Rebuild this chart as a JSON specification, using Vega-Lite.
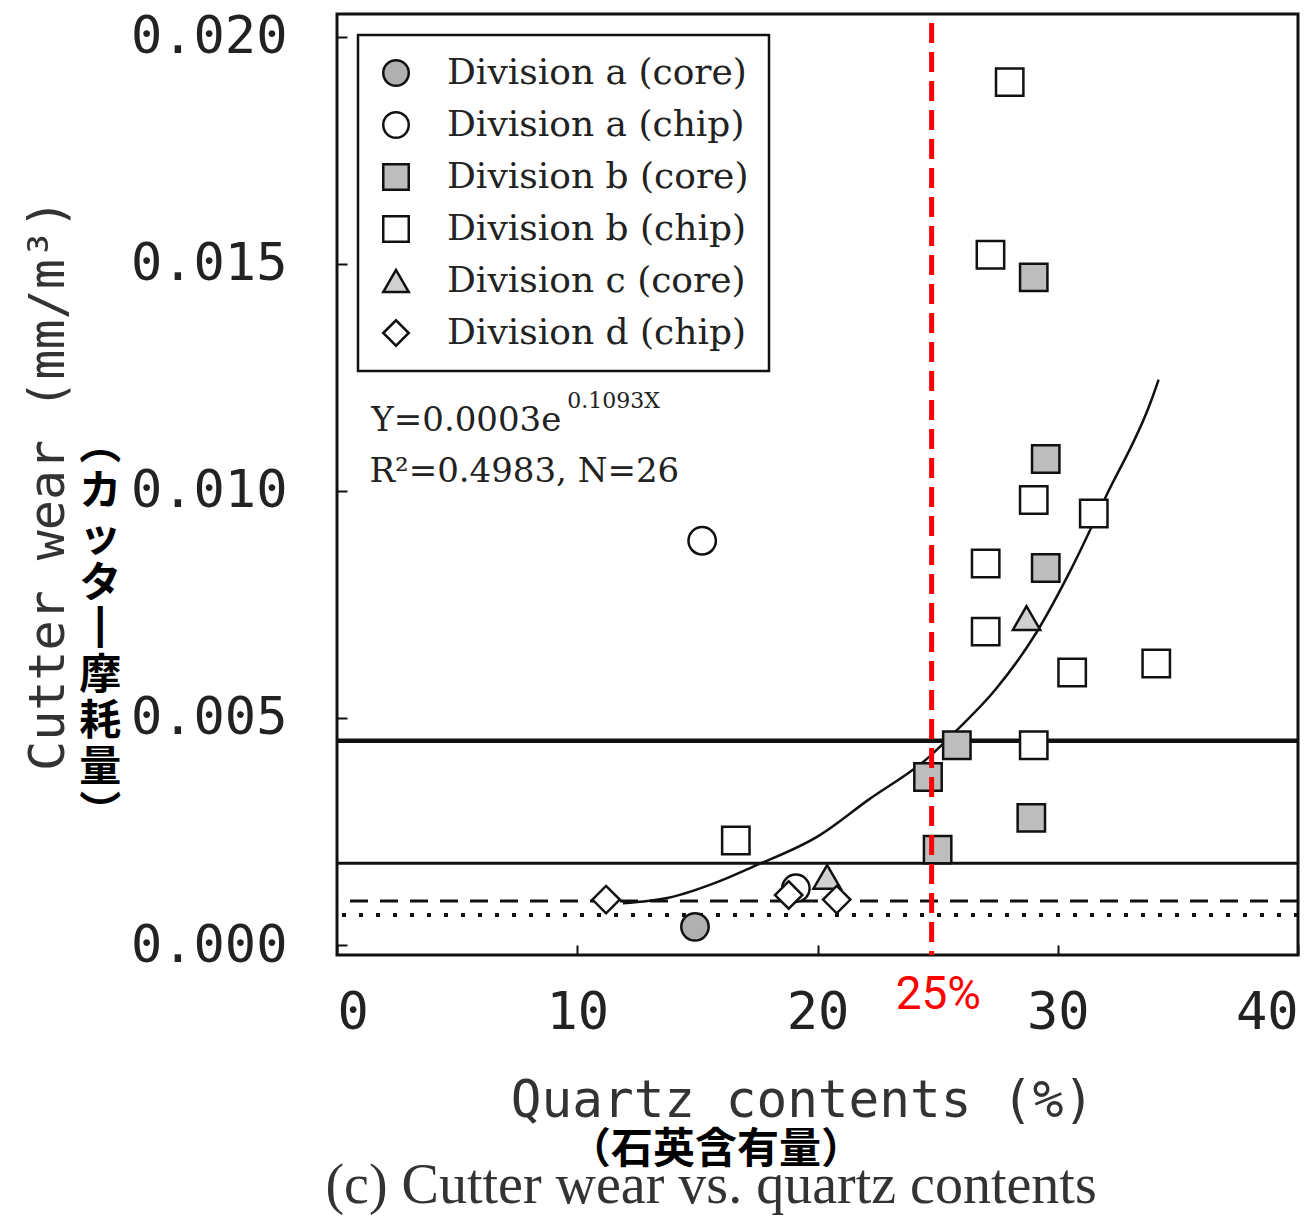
{
  "$schema": "https://vega.github.io/schema/vega-lite/v6.json",
  "width": 961,
  "height": 941,
  "autosize": {"type": "none"},
  "padding": {"left": 337, "top": 14, "right": 14, "bottom": 261},
  "background": "white",
  "config": {
    "view": {"stroke": "#111", "strokeWidth": 3},
    "axis": {
      "grid": false,
      "domain": false,
      "ticks": true,
      "tickSize": -10,
      "tickWidth": 2,
      "tickColor": "#111",
      "labelFont": "DejaVu Sans Mono",
      "labelFontSize": 52,
      "labelColor": "#222",
      "titleFont": "DejaVu Sans Mono",
      "titleFontWeight": "normal",
      "titleColor": "#333"
    },
    "legend": {
      "orient": "top-left",
      "offset": 21,
      "strokeColor": "#111",
      "strokeWidth": 2.5,
      "padding": 20,
      "labelFont": "DejaVu Serif",
      "labelFontSize": 36,
      "labelColor": "#222",
      "labelLimit": 600,
      "symbolSize": 650,
      "symbolStrokeWidth": 2.5,
      "symbolOpacity": 1,
      "rowPadding": 16,
      "labelOffset": 33
    }
  },
  "layer": [
    {
      "data": {"values": [{"wear": 0.0045}]},
      "mark": {"type": "rule", "color": "#111", "strokeWidth": 4.5},
      "encoding": {"y": {"field": "wear", "type": "quantitative", "title": "Cutter wear (mm/m³)"}}
    },
    {
      "data": {"values": [{"wear": 0.0018}]},
      "mark": {"type": "rule", "color": "#111", "strokeWidth": 3},
      "encoding": {"y": {"field": "wear", "type": "quantitative", "title": "Cutter wear (mm/m³)"}}
    },
    {
      "data": {"values": [{"wear": 0.00097}]},
      "mark": {"type": "rule", "color": "#111", "strokeWidth": 3, "strokeDash": [18, 12]},
      "encoding": {"y": {"field": "wear", "type": "quantitative", "title": "Cutter wear (mm/m³)"}}
    },
    {
      "data": {"values": [{"wear": 0.00066}]},
      "mark": {"type": "rule", "color": "#111", "strokeWidth": 4, "strokeDash": [4, 13]},
      "encoding": {"y": {"field": "wear", "type": "quantitative", "title": "Cutter wear (mm/m³)"}}
    },
    {
      "data": {"values": [
        {"quartz": 11.9, "wear": 0.00092},
        {"quartz": 13.8, "wear": 0.00104},
        {"quartz": 15.9, "wear": 0.00140},
        {"quartz": 17.3, "wear": 0.00172},
        {"quartz": 20.1, "wear": 0.00242},
        {"quartz": 22.1, "wear": 0.00319},
        {"quartz": 24.6, "wear": 0.00412},
        {"quartz": 25.8, "wear": 0.00473},
        {"quartz": 27.4, "wear": 0.00562},
        {"quartz": 29.1, "wear": 0.00687},
        {"quartz": 30.6, "wear": 0.00832},
        {"quartz": 32.0, "wear": 0.00987},
        {"quartz": 33.9, "wear": 0.01200},
        {"quartz": 34.2, "wear": 0.01245}
      ]},
      "mark": {"type": "line", "color": "#111", "strokeWidth": 2.5, "interpolate": "monotone"},
      "encoding": {
        "x": {"field": "quartz", "type": "quantitative", "title": "Quartz contents (%)"},
        "y": {"field": "wear", "type": "quantitative", "title": "Cutter wear (mm/m³)"}
      }
    },
    {
      "data": {"values": [
        {"series": "Division a (core)", "quartz": 14.9, "wear": 0.00040},
        {"series": "Division a (chip)", "quartz": 15.2, "wear": 0.0089},
        {"series": "Division a (chip)", "quartz": 19.1, "wear": 0.00125},
        {"series": "Division b (core)", "quartz": 29.0, "wear": 0.0147},
        {"series": "Division b (core)", "quartz": 29.5, "wear": 0.0107},
        {"series": "Division b (core)", "quartz": 29.5, "wear": 0.0083},
        {"series": "Division b (core)", "quartz": 25.8, "wear": 0.0044},
        {"series": "Division b (core)", "quartz": 24.6, "wear": 0.0037},
        {"series": "Division b (core)", "quartz": 25.0, "wear": 0.0021},
        {"series": "Division b (core)", "quartz": 28.9, "wear": 0.0028},
        {"series": "Division b (chip)", "quartz": 28.0, "wear": 0.0190},
        {"series": "Division b (chip)", "quartz": 27.2, "wear": 0.0152},
        {"series": "Division b (chip)", "quartz": 29.0, "wear": 0.0098},
        {"series": "Division b (chip)", "quartz": 31.5, "wear": 0.0095},
        {"series": "Division b (chip)", "quartz": 27.0, "wear": 0.0084},
        {"series": "Division b (chip)", "quartz": 27.0, "wear": 0.0069},
        {"series": "Division b (chip)", "quartz": 30.6, "wear": 0.0060},
        {"series": "Division b (chip)", "quartz": 34.1, "wear": 0.0062},
        {"series": "Division b (chip)", "quartz": 29.0, "wear": 0.0044},
        {"series": "Division b (chip)", "quartz": 16.6, "wear": 0.0023},
        {"series": "Division c (core)", "quartz": 28.7, "wear": 0.0072},
        {"series": "Division c (core)", "quartz": 20.4, "wear": 0.0015},
        {"series": "Division d (chip)", "quartz": 11.2, "wear": 0.0010},
        {"series": "Division d (chip)", "quartz": 18.8, "wear": 0.0011},
        {"series": "Division d (chip)", "quartz": 20.8, "wear": 0.0010}
      ]},
      "mark": {"type": "point", "filled": true, "strokeWidth": 2.5, "size": 750, "opacity": 1},
      "encoding": {
        "x": {
          "field": "quartz",
          "type": "quantitative",
          "title": "Quartz contents (%)",
          "scale": {"domain": [0, 40], "nice": false, "zero": false},
          "axis": {"values": [0, 10, 20, 30, 40], "labelFlush": true, "labelPadding": 42, "titleFontSize": 51, "titlePadding": 38, "titleX": 465}
        },
        "y": {
          "field": "wear",
          "type": "quantitative",
          "title": "Cutter wear (mm/m³)",
          "scale": {"domain": [-0.00022, 0.0205], "nice": false, "zero": false},
          "axis": {"values": [0, 0.005, 0.01, 0.015, 0.02], "format": ".3f", "labelPadding": 60, "titleFontSize": 50, "titlePadding": 64}
        },
        "shape": {
          "field": "series",
          "type": "nominal",
          "scale": {
            "domain": ["Division a (core)", "Division a (chip)", "Division b (core)", "Division b (chip)", "Division c (core)", "Division d (chip)"],
            "range": ["circle", "circle", "square", "square", "triangle-up", "diamond"]
          },
          "legend": {"title": null}
        },
        "fill": {
          "field": "series",
          "type": "nominal",
          "scale": {
            "domain": ["Division a (core)", "Division a (chip)", "Division b (core)", "Division b (chip)", "Division c (core)", "Division d (chip)"],
            "range": ["#b0b0b0", "#ffffff", "#bdbdbd", "#ffffff", "#d0d0d0", "#ffffff"]
          },
          "legend": {"title": null}
        },
        "stroke": {
          "field": "series",
          "type": "nominal",
          "scale": {
            "domain": ["Division a (core)", "Division a (chip)", "Division b (core)", "Division b (chip)", "Division c (core)", "Division d (chip)"],
            "range": ["#111111", "#111111", "#111111", "#111111", "#111111", "#111111"]
          },
          "legend": {"title": null}
        }
      }
    },
    {
      "data": {"values": [{"quartz": 24.75, "wear": 0.0203}]},
      "mark": {"type": "rule", "color": "#ff0000", "strokeWidth": 5, "strokeDash": [20, 9]},
      "encoding": {
        "x": {"field": "quartz", "type": "quantitative", "title": "Quartz contents (%)"},
        "y": {"field": "wear", "type": "quantitative", "title": "Cutter wear (mm/m³)"},
        "y2": {"datum": -0.00022}
      }
    },
    {
      "data": {"values": [{"quartz": 25.03, "wear": -0.0011, "label": "25%"}]},
      "mark": {"type": "text", "color": "#ff0000", "font": "Roboto", "fontSize": 46, "align": "center", "baseline": "middle"},
      "encoding": {
        "x": {"field": "quartz", "type": "quantitative", "title": "Quartz contents (%)"},
        "y": {"field": "wear", "type": "quantitative", "title": "Cutter wear (mm/m³)"},
        "text": {"field": "label"}
      }
    },
    {
      "data": {"values": [
        {"quartz": 1.43, "wear": 0.01132, "label": "Y=0.0003e"},
        {"quartz": 1.35, "wear": 0.0102, "label": "R²=0.4983, N=26"}
      ]},
      "mark": {"type": "text", "color": "#222", "font": "DejaVu Serif", "fontSize": 34, "align": "left", "baseline": "alphabetic"},
      "encoding": {
        "x": {"field": "quartz", "type": "quantitative", "title": "Quartz contents (%)"},
        "y": {"field": "wear", "type": "quantitative", "title": "Cutter wear (mm/m³)"},
        "text": {"field": "label"}
      }
    },
    {
      "data": {"values": [{"quartz": 9.58, "wear": 0.01182, "label": "0.1093X"}]},
      "mark": {"type": "text", "color": "#222", "font": "DejaVu Serif", "fontSize": 22, "align": "left", "baseline": "alphabetic"},
      "encoding": {
        "x": {"field": "quartz", "type": "quantitative", "title": "Quartz contents (%)"},
        "y": {"field": "wear", "type": "quantitative", "title": "Cutter wear (mm/m³)"},
        "text": {"field": "label"}
      }
    },
    {
      "data": {"values": [{"quartz": 15.57, "wear": -0.00568, "label": "(c) Cutter wear vs. quartz contents"}]},
      "mark": {"type": "text", "color": "#333", "font": "Liberation Serif", "fontSize": 56, "align": "center", "baseline": "alphabetic"},
      "encoding": {
        "x": {"field": "quartz", "type": "quantitative", "title": "Quartz contents (%)"},
        "y": {"field": "wear", "type": "quantitative", "title": "Cutter wear (mm/m³)"},
        "text": {"field": "label"}
      }
    },
    {
      "data": {"values": [{"quartz": 15.78, "wear": -0.00451, "label": "（石英含有量）"}]},
      "mark": {"type": "text", "color": "#000", "font": "Noto Sans CJK JP", "fontWeight": "bold", "fontSize": 42, "align": "center", "baseline": "middle"},
      "encoding": {
        "x": {"field": "quartz", "type": "quantitative", "title": "Quartz contents (%)"},
        "y": {"field": "wear", "type": "quantitative", "title": "Cutter wear (mm/m³)"},
        "text": {"field": "label"}
      }
    },
    {
      "data": {"values": [{"quartz": -9.85, "wear": 0.01099}]},
      "mark": {"type": "text", "color": "#000", "font": "Noto Sans CJK JP", "fontWeight": "bold", "fontSize": 42, "lineHeight": 46, "align": "center", "baseline": "middle"},
      "encoding": {
        "x": {"field": "quartz", "type": "quantitative", "title": "Quartz contents (%)"},
        "y": {"field": "wear", "type": "quantitative", "title": "Cutter wear (mm/m³)"},
        "text": {"value": ["︵", "カ", "ッ", "タ", "┃", "摩", "耗", "量", "︶"]}
      }
    }
  ]
}
